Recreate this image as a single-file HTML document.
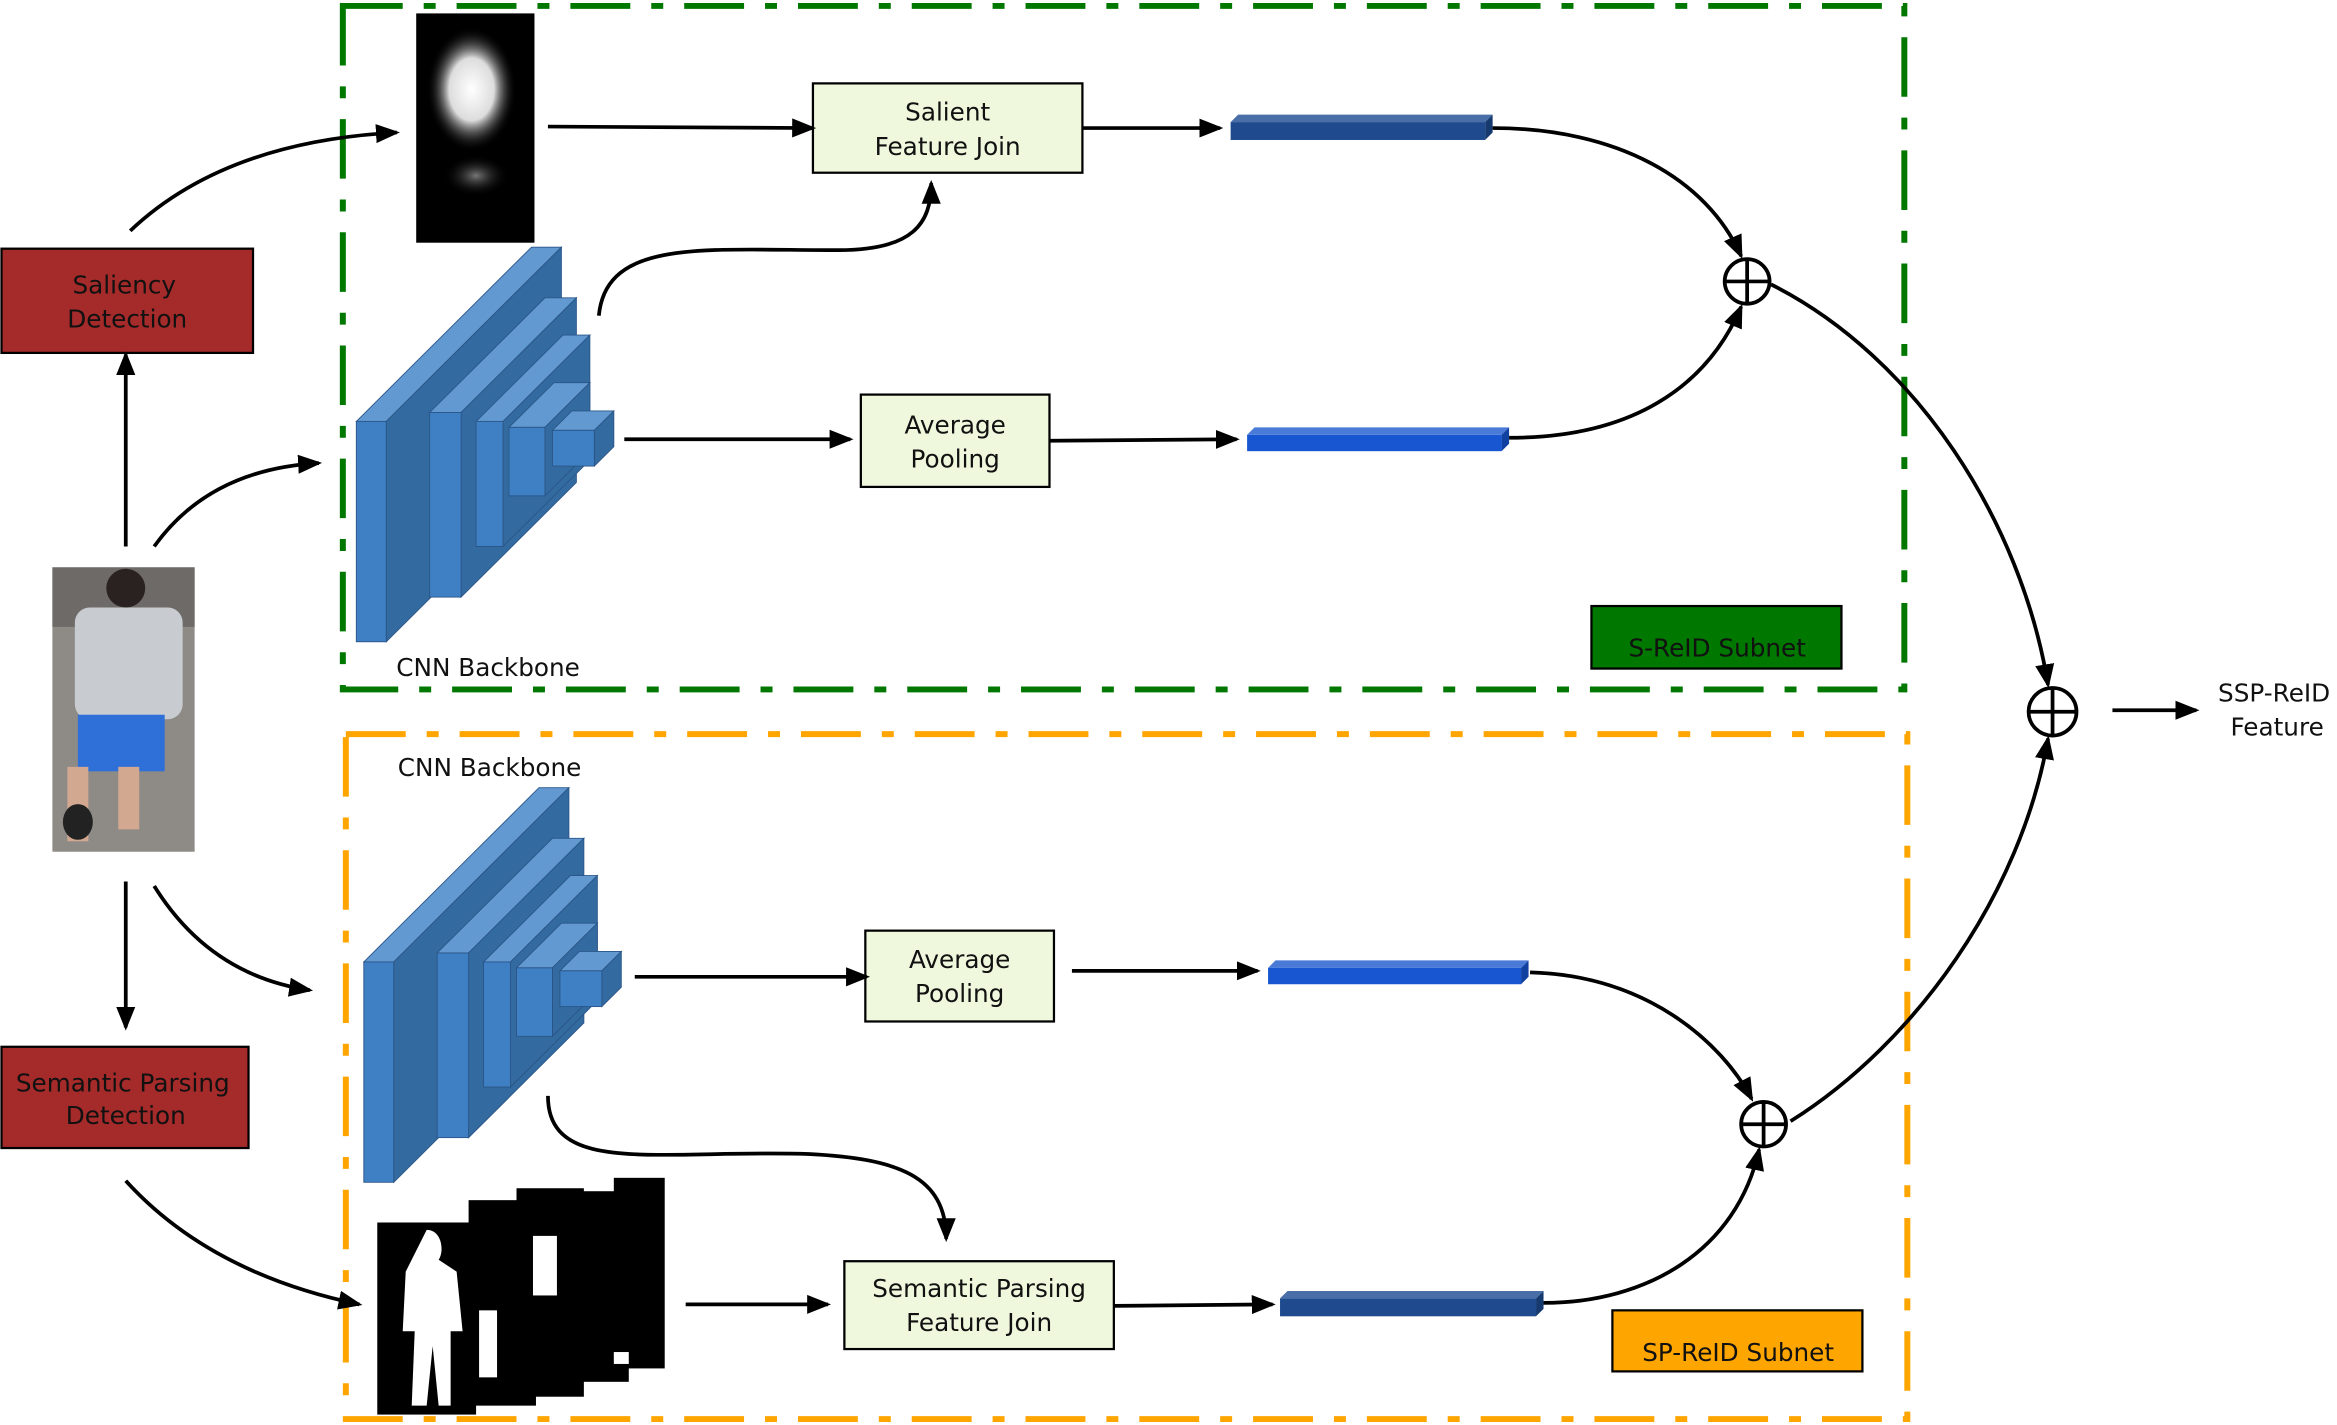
<!DOCTYPE html>
<html><head><meta charset="utf-8"><style>
html,body{margin:0;padding:0;background:#fff;}
svg{display:block;}
text{font-family:"DejaVu Sans","Liberation Sans",sans-serif;font-size:16.5px;fill:#111;}
</style></head><body>
<svg width="2337" height="1425" viewBox="0 0 1561 957" preserveAspectRatio="none" xmlns="http://www.w3.org/2000/svg">
<defs>
<marker id="a" markerWidth="16" markerHeight="14" refX="13" refY="6" orient="auto" markerUnits="userSpaceOnUse" viewBox="0 0 15 12">
<path d="M0,0 L15,6 L0,12 z" fill="#000"/></marker>
<radialGradient id="g1" cx="0.5" cy="0.5" r="0.5"><stop offset="0" stop-color="#fff"/><stop offset="0.5" stop-color="#ddd"/><stop offset="1" stop-color="#000" stop-opacity="0"/></radialGradient>
<radialGradient id="g2" cx="0.5" cy="0.5" r="0.5"><stop offset="0" stop-color="#777"/><stop offset="1" stop-color="#000" stop-opacity="0"/></radialGradient>
</defs>
<rect width="1561" height="957" fill="#fff"/>
<rect x="229" y="4" width="1043" height="459" fill="none" stroke="#007800" stroke-width="4" stroke-dasharray="40,14,8,14"/>
<rect x="231" y="493" width="1043" height="460" fill="none" stroke="#ffa500" stroke-width="4" stroke-dasharray="40,14,8,14"/>

<rect x="278" y="9" width="79" height="154" fill="#000"/>
<ellipse cx="315" cy="60" rx="30" ry="42" fill="url(#g1)"/>
<ellipse cx="318" cy="118" rx="22" ry="14" fill="url(#g2)"/>

<rect x="35" y="381" width="95" height="191" fill="#8e8a86"/>
<rect x="35" y="381" width="95" height="40" fill="#6e6a68"/>
<circle cx="84" cy="395" r="13" fill="#2a2220"/>
<rect x="50" y="408" width="72" height="75" rx="10" fill="#c8ccd0"/>
<rect x="52" y="480" width="58" height="38" fill="#2f6fd8"/>
<rect x="45" y="515" width="14" height="50" fill="#d2a890"/>
<rect x="79" y="515" width="14" height="42" fill="#d2a890"/>
<ellipse cx="52" cy="552" rx="10" ry="12" fill="#222"/>

<rect x="410" y="791" width="34" height="128" fill="#000"/>
<rect x="380" y="800" width="40" height="128" fill="#000"/>
<rect x="345" y="798" width="45" height="140" fill="#000"/>
<rect x="313" y="806" width="45" height="138" fill="#000"/>
<rect x="252" y="821" width="66" height="129" fill="#000"/>
<path d="M285,826 c10,0 12,14 8,20 l12,8 l4,40 l-8,0 l0,50 l-8,0 l-4,-40 l-4,40 l-10,0 l2,-50 l-8,0 l2,-40 z" fill="#fff"/>
<rect x="356" y="830" width="16" height="40" fill="#fff"/>
<rect x="320" y="880" width="12" height="45" fill="#fff"/>
<rect x="410" y="908" width="10" height="8" fill="#fff"/>

<g stroke="#2a5588" stroke-width="0.6">
<g id="cnn">
<polygon points="238,283 355,166 375,166 258,283" fill="#6199d0"/><polygon points="258,283 375,166 375,314 258,431" fill="#336ba0"/><rect x="238" y="283" width="20" height="148" fill="#3f80c4"/>
<polygon points="287,277 364,200 385,200 308,277" fill="#6199d0"/><polygon points="308,277 385,200 385,324 308,401" fill="#336ba0"/><rect x="287" y="277" width="21" height="124" fill="#3f80c4"/>
<polygon points="318,283 376,225 394,225 336,283" fill="#6199d0"/><polygon points="336,283 394,225 394,309 336,367" fill="#336ba0"/><rect x="318" y="283" width="18" height="84" fill="#3f80c4"/>
<polygon points="340,287 370,257 394,257 364,287" fill="#6199d0"/><polygon points="364,287 394,257 394,303 364,333" fill="#336ba0"/><rect x="340" y="287" width="24" height="46" fill="#3f80c4"/>
<polygon points="369,289 382,276 410,276 397,289" fill="#6199d0"/><polygon points="397,289 410,276 410,300 397,313" fill="#336ba0"/><rect x="369" y="289" width="28" height="24" fill="#3f80c4"/>
</g>
<use href="#cnn" transform="translate(5,363)"/>
</g>

<g>
<polygon points="822,82 827,77 997,77 992,82" fill="#4a6fa8"/><polygon points="992,82 997,77 997,89 992,94" fill="#163a70"/><rect x="822" y="82" width="170" height="12" fill="#1f4a8e"/>
<polygon points="833,292 838,287 1008,287 1003,292" fill="#4a7ad8"/><polygon points="1003,292 1008,287 1008,298 1003,303" fill="#1040a0"/><rect x="833" y="292" width="170" height="11" fill="#1855d0"/>
<polygon points="847,650 852,645 1021,645 1016,650" fill="#4a7ad8"/><polygon points="1016,650 1021,645 1021,656 1016,661" fill="#1040a0"/><rect x="847" y="650" width="169" height="11" fill="#1855d0"/>
<polygon points="855,872 860,867 1031,867 1026,872" fill="#4a6fa8"/><polygon points="1026,872 1031,867 1031,879 1026,884" fill="#163a70"/><rect x="855" y="872" width="171" height="12" fill="#1f4a8e"/>
</g>

<rect x="1" y="167" width="168" height="70" fill="#a52a2a" stroke="#000" stroke-width="1.5"/>
<text x="83" y="197" text-anchor="middle">Saliency</text><text x="85" y="220" text-anchor="middle">Detection</text>
<rect x="1" y="703" width="165" height="68" fill="#a52a2a" stroke="#000" stroke-width="1.5"/>
<text x="82" y="733" text-anchor="middle">Semantic Parsing</text><text x="84" y="755" text-anchor="middle">Detection</text>
<rect x="543" y="56" width="180" height="60" fill="#eff7dc" stroke="#000" stroke-width="1.5"/>
<text x="633" y="81" text-anchor="middle">Salient</text><text x="633" y="104" text-anchor="middle">Feature Join</text>
<rect x="575" y="265" width="126" height="62" fill="#eff7dc" stroke="#000" stroke-width="1.5"/>
<text x="638" y="291" text-anchor="middle">Average</text><text x="638" y="314" text-anchor="middle">Pooling</text>
<rect x="578" y="625" width="126" height="61" fill="#eff7dc" stroke="#000" stroke-width="1.5"/>
<text x="641" y="650" text-anchor="middle">Average</text><text x="641" y="673" text-anchor="middle">Pooling</text>
<rect x="564" y="847" width="180" height="59" fill="#eff7dc" stroke="#000" stroke-width="1.5"/>
<text x="654" y="871" text-anchor="middle">Semantic Parsing</text><text x="654" y="894" text-anchor="middle">Feature Join</text>
<rect x="1063" y="407" width="167" height="42" fill="#007800" stroke="#000" stroke-width="1.5"/>
<text x="1147" y="441" text-anchor="middle">S-ReID Subnet</text>
<rect x="1077" y="880" width="167" height="41" fill="#ffa500" stroke="#000" stroke-width="1.5"/>
<text x="1161" y="914" text-anchor="middle">SP-ReID Subnet</text>

<text x="326" y="454" text-anchor="middle">CNN Backbone</text>
<text x="327" y="521" text-anchor="middle">CNN Backbone</text>
<text x="1519" y="471" text-anchor="middle">SSP-ReID</text>
<text x="1521" y="494" text-anchor="middle">Feature</text>

<g fill="none" stroke="#000" stroke-width="2.5">
<circle cx="1167" cy="189" r="15"/><path d="M1152,189 H1182 M1167,174 V204"/>
<circle cx="1371" cy="478" r="16"/><path d="M1355,478 H1387 M1371,462 V494"/>
<circle cx="1178" cy="755" r="15"/><path d="M1163,755 H1193 M1178,740 V770"/>
</g>

<g fill="none" stroke="#000" stroke-width="2.5" marker-end="url(#a)">
<path d="M87,155 Q150,95 265,89"/>
<path d="M366,85 L543,86"/>
<path d="M723,86 L815,86"/>
<path d="M400,212 C405,160 470,168 560,168 C610,168 622,150 622,123"/>
<path d="M417,295 L568,295"/>
<path d="M701,296 L826,295"/>
<path d="M997,86 C1080,86 1140,120 1163,172"/>
<path d="M1008,294 C1090,294 1140,260 1163,206"/>
<path d="M1183,191 C1280,240 1350,350 1368,460"/>
<path d="M1196,753 C1280,700 1350,600 1368,496"/>
<path d="M1411,477 L1467,477"/>
<path d="M84,367 L84,238"/>
<path d="M103,367 Q140,315 213,311"/>
<path d="M84,592 L84,690"/>
<path d="M103,595 Q140,655 207,665"/>
<path d="M424,656 L579,656"/>
<path d="M716,652 L840,652"/>
<path d="M1022,653 C1100,655 1150,700 1170,738"/>
<path d="M1031,875 C1100,875 1160,840 1175,772"/>
<path d="M366,736 C366,790 440,772 540,775 C600,778 632,790 632,832"/>
<path d="M458,876 L553,876"/>
<path d="M744,877 L850,876"/>
<path d="M84,793 Q140,855 240,876"/>
</g>
</svg>
</body></html>
